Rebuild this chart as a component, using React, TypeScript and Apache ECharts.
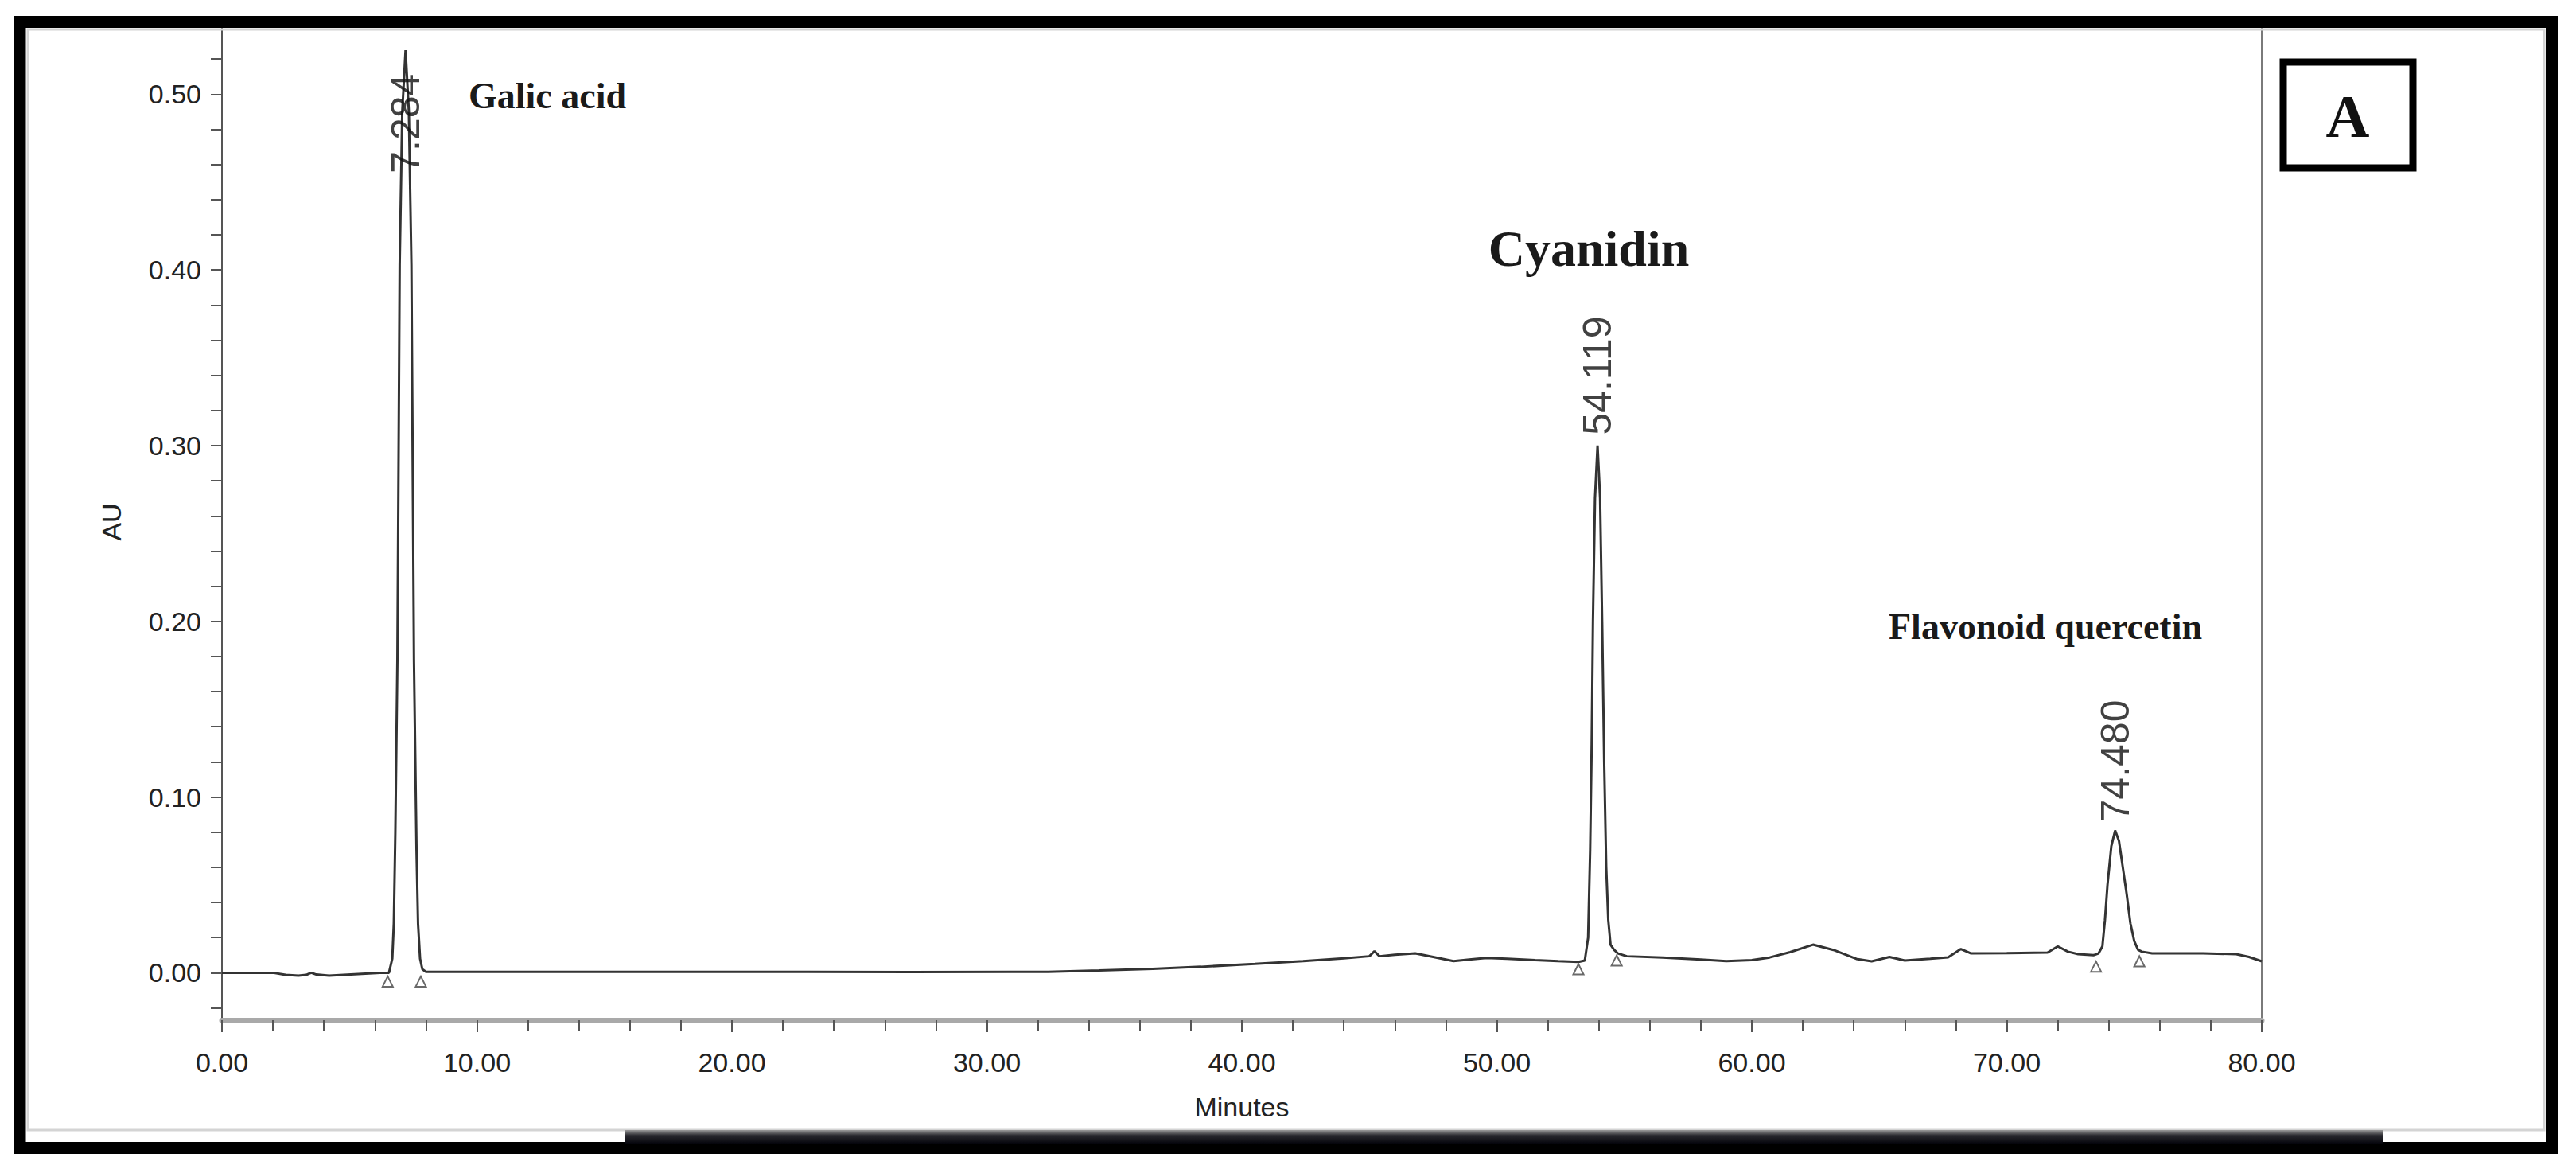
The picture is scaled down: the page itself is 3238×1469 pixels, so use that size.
import React, { useEffect, useRef } from "react";
import * as echarts from "echarts";

// Chromatogram trace (minutes, AU)
const retentionTimes = [
  0, 1.0, 2.0, 2.5, 3.0, 3.3, 3.5, 3.7, 4.2, 5.2, 6.2, 6.55,
  6.68, 6.74, 6.8, 6.88, 6.97, 7.07, 7.2, 7.33, 7.43, 7.53, 7.63, 7.69, 7.77, 7.86, 8.0,
  10, 15, 20, 22.5, 27, 32.4, 34.4, 36.5, 38.4, 40.5, 42.4, 44.0, 45.0, 45.2, 45.4,
  46.0, 46.8, 47.5, 48.3, 49.0, 49.6, 50.4, 51.5, 52.4, 53.2, 53.45,
  53.58, 53.66, 53.72, 53.77, 53.85, 53.95, 54.05, 54.13, 54.21, 54.29, 54.37, 54.46, 54.6, 54.75,
  55.1, 56.5, 58.0, 59.0, 60.0, 60.7, 61.5, 62.4, 63.2, 64.1, 64.7, 65.4, 66.0, 67.0, 67.7,
  68.2, 68.6, 70.0, 71.6, 72.0, 72.4, 72.8, 73.4, 73.6, 73.75, 73.85, 73.95, 74.1, 74.25,
  74.4, 74.55, 74.7, 74.85, 75.0, 75.15, 75.3, 75.7, 77.7, 79.0, 79.5, 80.0,
];
const absorbance = [
  0.0, 0.0, 0.0, -0.0012, -0.0016, -0.0012, 0.0, -0.001, -0.0016, -0.0008, 0.0, 0.0,
  0.008, 0.028, 0.08, 0.178, 0.403, 0.49, 0.525, 0.49, 0.403, 0.178, 0.07, 0.028, 0.008, 0.002, 0.0005,
  0.0005, 0.0005, 0.0005, 0.0005, 0.0004, 0.0005, 0.0013, 0.0022, 0.0034, 0.005, 0.0066, 0.0082, 0.0094, 0.0122, 0.0094,
  0.0102, 0.011, 0.009, 0.0066, 0.0076, 0.0084, 0.008, 0.0072, 0.0066, 0.0062, 0.007,
  0.02, 0.07, 0.13, 0.2, 0.27, 0.3, 0.27, 0.2, 0.12, 0.06, 0.03, 0.016, 0.013, 0.011,
  0.0094, 0.0087, 0.0075, 0.0066, 0.0072, 0.0087, 0.0117, 0.016, 0.013, 0.0079, 0.0065, 0.009, 0.007, 0.008, 0.0088,
  0.0135, 0.011, 0.0112, 0.0115, 0.015, 0.012, 0.0106, 0.01, 0.011, 0.015, 0.03, 0.05, 0.072, 0.081,
  0.075, 0.06, 0.045, 0.028, 0.018, 0.013, 0.012, 0.011, 0.011, 0.0106, 0.009, 0.0065,
];

// Peak retention-time labels
const peakTimes = [7.2, 53.95, 74.25];
const peakLabels = ["7.284", "54.119", "74.480"];
const peakLabelBase = [0.455, 0.306, 0.086];

// Integration start/end markers (open triangles)
const markerTimes = [6.5, 7.8, 53.2, 54.7, 73.5, 75.2];
const markerAU = [-0.005, -0.005, 0.002, 0.007, 0.0035, 0.0065];

// Compound annotations
const compoundNames = ["Galic acid", "Cyanidin", "Flavonoid quercetin"];
const panelLetter = "A";

// Axis ticks
const yTickValues = [
  -0.02, 0, 0.02, 0.04, 0.06, 0.08, 0.1, 0.12, 0.14, 0.16, 0.18, 0.2, 0.22, 0.24, 0.26,
  0.28, 0.3, 0.32, 0.34, 0.36, 0.38, 0.4, 0.42, 0.44, 0.46, 0.48, 0.5, 0.52,
];
const yLabelValues = [0, 0.1, 0.2, 0.3, 0.4, 0.5];
const xAxisName = "Minutes";
const yAxisName = "AU";

const W = 3238;
const H = 1469;

export default function App() {
  const ref = useRef<HTMLDivElement>(null);

  useEffect(() => {
    if (!ref.current) return;
    const chart = echarts.init(ref.current, undefined, { renderer: "svg" });
    const sans = "Liberation Sans";
    const serif = "Liberation Serif";
    const axisGray = "#555";

    const trace = retentionTimes.map((t, i) => [t, absorbance[i]]);
    const markers = markerTimes.map((t, i) => [t, markerAU[i]]);
    const labelPts = peakTimes.map((t, i) => ({ value: [t, peakLabelBase[i]], name: peakLabels[i] }));

    chart.setOption({
      animation: false,
      backgroundColor: "#ffffff",
      grid: {
        left: 279,
        right: W - 2843,
        top: 30,
        bottom: H - 1282,
        show: true,
        borderColor: "#7a7a7a",
        borderWidth: 2,
        backgroundColor: "transparent",
      },
      xAxis: {
        type: "value",
        min: 0,
        max: 80,
        interval: 10,
        name: xAxisName,
        nameLocation: "middle",
        nameGap: 92,
        nameTextStyle: { fontFamily: sans, fontSize: 34, color: "#222" },
        axisLine: { show: true, onZero: false, lineStyle: { color: "#a9a9a9", width: 7 } },
        axisTick: { show: true, length: 15, lineStyle: { color: axisGray, width: 2 } },
        minorTick: { show: true, splitNumber: 5, length: 13, lineStyle: { color: axisGray, width: 2 } },
        axisLabel: {
          margin: 36,
          fontFamily: sans,
          fontSize: 34,
          color: "#222",
          formatter: (v: number) => v.toFixed(2),
        },
        splitLine: { show: false },
      },
      yAxis: {
        type: "value",
        min: -0.027,
        max: 0.54,
        name: yAxisName,
        nameLocation: "middle",
        nameRotate: 90,
        nameGap: 122,
        nameTextStyle: { fontFamily: sans, fontSize: 34, color: "#222" },
        axisLine: { show: true, onZero: false, lineStyle: { color: axisGray, width: 2 } },
        axisTick: {
          show: true,
          length: 14,
          customValues: yTickValues,
          lineStyle: { color: axisGray, width: 2 },
        },
        axisLabel: {
          margin: 26,
          fontFamily: sans,
          fontSize: 34,
          color: "#222",
          customValues: yLabelValues,
          formatter: (v: number) => v.toFixed(2),
        },
        splitLine: { show: false },
      },
      series: [
        {
          type: "line",
          data: trace,
          showSymbol: false,
          smooth: false,
          lineStyle: { color: "#333", width: 3 },
          z: 5,
        },
        {
          type: "scatter",
          data: markers,
          symbol: "triangle",
          symbolSize: 13,
          itemStyle: { color: "#ffffff", borderColor: "#444", borderWidth: 2 },
          z: 6,
        },
        {
          type: "scatter",
          data: labelPts,
          symbol: "circle",
          symbolSize: 2,
          itemStyle: { color: "rgba(0,0,0,0)" },
          label: {
            show: true,
            position: "inside",
            rotate: 90,
            align: "left",
            verticalAlign: "middle",
            fontFamily: sans,
            fontSize: 50,
            color: "#111",
            textBorderWidth: 0,
            formatter: (p: any) => p.name,
          },
          z: 7,
        },
      ],
      graphic: [
        {
          type: "text",
          x: 589,
          y: 120,
          z: 50,
          style: {
            text: compoundNames[0],
            fontFamily: serif,
            fontWeight: "bold",
            fontSize: 46,
            fill: "#1a1a1a",
            align: "left",
            verticalAlign: "middle",
          },
        },
        {
          type: "text",
          x: 1997,
          y: 312,
          z: 50,
          style: {
            text: compoundNames[1],
            fontFamily: serif,
            fontWeight: "bold",
            fontSize: 64,
            fill: "#1a1a1a",
            align: "center",
            verticalAlign: "middle",
          },
        },
        {
          type: "text",
          x: 2571,
          y: 787,
          z: 50,
          style: {
            text: compoundNames[2],
            fontFamily: serif,
            fontWeight: "bold",
            fontSize: 46,
            fill: "#1a1a1a",
            align: "center",
            verticalAlign: "middle",
          },
        },
        {
          type: "rect",
          z: 50,
          shape: { x: 2870, y: 78, width: 163, height: 133 },
          style: { fill: "#ffffff", stroke: "#000000", lineWidth: 9 },
        },
        {
          type: "text",
          x: 2951,
          y: 146,
          z: 51,
          style: {
            text: panelLetter,
            fontFamily: serif,
            fontWeight: "bold",
            fontSize: 76,
            fill: "#111",
            align: "center",
            verticalAlign: "middle",
          },
        },
        {
          type: "rect",
          z: 90,
          silent: true,
          shape: { x: 35, y: 37, width: 3163, height: 1383 },
          style: { fill: "none", stroke: "#d4d4d4", lineWidth: 3 },
        },
        {
          type: "rect",
          z: 100,
          silent: true,
          shape: { x: 25, y: 27.5, width: 3182.5, height: 1415 },
          style: { fill: "none", stroke: "#000000", lineWidth: 15 },
        },
        {
          type: "rect",
          z: 101,
          silent: true,
          shape: { x: 785, y: 1420, width: 2210, height: 17 },
          style: {
            fill: new echarts.graphic.LinearGradient(0, 0, 0, 1, [
              { offset: 0, color: "#9a9a9a" },
              { offset: 0.4, color: "#2a2a30" },
              { offset: 1, color: "#05050c" },
            ]),
          },
        },
      ],
    });

    return () => chart.dispose();
  }, []);

  return (
    <div
      ref={ref}
      style={{ position: "absolute", left: 0, top: 0, width: W, height: H, background: "#fff" }}
    />
  );
}
